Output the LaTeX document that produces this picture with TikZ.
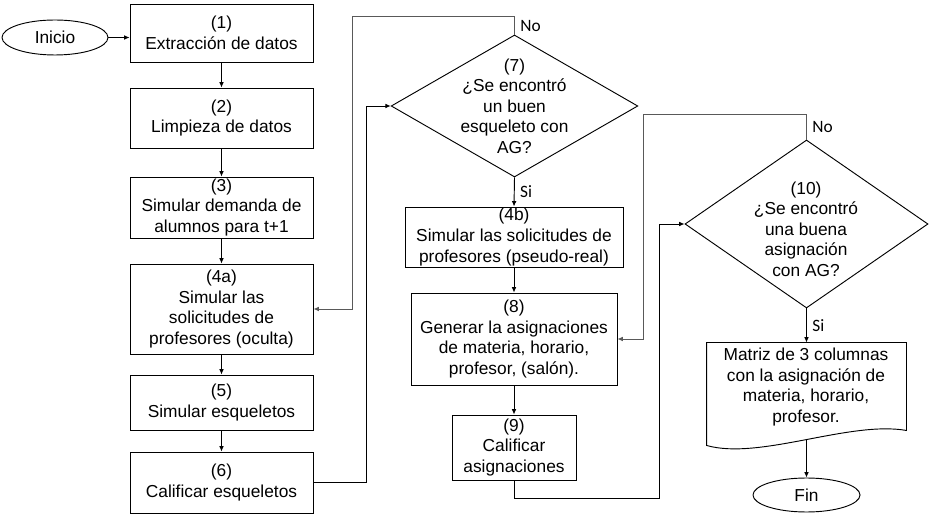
\documentclass[tikz,border=0pt]{standalone}
\usepackage{fontspec}
\setmainfont{Liberation Sans}
\newfontfamily\labfont{Carlito}
\usetikzlibrary{positioning,arrows.meta,calc,shapes.geometric}

\begin{document}
\begin{tikzpicture}[x=0.75pt,y=-0.75pt,>={Latex[length=4pt,width=3.5pt]},
  font=\fontsize{13}{15.4}\selectfont,line width=0.7pt,
  box/.style={draw,align=center,inner sep=1pt},
  term/.style={draw,ellipse,inner sep=0pt},
  dec/.style={draw,diamond,inner sep=0pt},
  lab/.style={font=\labfont\fontsize{13}{15}\selectfont,inner sep=1pt},
  back/.style={draw=black!65}]
\useasboundingbox (0,0) rectangle (931,523);

% first column
\node[term,minimum width=79.5pt,minimum height=26.25pt] (ini) at (55,37.5) {Inicio};
\node[box,minimum width=137.25pt,minimum height=43.5pt] (s1) at (221.5,33) {(1)\\Extracción de datos};
\node[box,minimum width=137.25pt,minimum height=45pt] (s2) at (221.5,118) {(2)\\Limpieza de datos};
\node[box,minimum width=137.25pt,minimum height=45.75pt] (s3) at (221.5,207.5) {(3)\\Simular demanda de\\alumnos para t+1};
\node[box,minimum width=137.25pt,minimum height=67.5pt] (s4a) at (221.5,309) {(4a)\\Simular las\\solicitudes de\\profesores (oculta)};
\node[box,minimum width=137.25pt,minimum height=41.25pt] (s5) at (221.5,402.5) {(5)\\Simular esqueletos};
\node[box,minimum width=137.25pt,minimum height=45.75pt] (s6) at (221.5,482.5) {(6)\\Calificar esqueletos};

% second column
\node[dec,minimum width=185pt,minimum height=106.5pt] (d7) at (514.5,106) {};
\node[align=center,inner sep=0pt] (q7) at (d7) {(7)\\¿Se encontró\\un buen\\esqueleto con\\AG?};
\node[box,minimum width=163.5pt,minimum height=45pt] (s4b) at (514,237) {(4b)\\Simular las solicitudes de\\profesores (pseudo-real)};
\node[box,minimum width=154.5pt,minimum height=69pt] (s8) at (514,339) {(8)\\Generar la asignaciones\\de materia, horario,\\profesor, (salón).};
\node[box,minimum width=93pt,minimum height=48.75pt] (s9) at (514,447.5) {(9)\\Calificar\\asignaciones};

% third column
\node[dec,minimum width=182.25pt,minimum height=126pt] (d10) at (806.5,224) {};
\node[align=center,inner sep=0pt] (q10) at (806,229) {(10)\\¿Se encontró\\una buena\\asignación\\con AG?};
\node[minimum width=149.25pt,minimum height=76.5pt,inner sep=0pt] (doc) at (806.5,394) {};
\draw (doc.south west) -- (doc.north west) -- (doc.north east) -- ([yshift=11.25pt]doc.south east)
  .. controls ($(doc.south west)+(143,-25)$) and ($(doc.south west)+(53,15)$) .. (doc.south west) -- cycle;
\node[align=center,inner sep=0pt] (mat) at (806,387) {Matriz de 3 columnas\\con la asignación de\\materia, horario,\\profesor.};
\coordinate (wb) at ($(doc.south)+(0,-6)$);
\node[term,minimum width=80.25pt,minimum height=25.5pt] (fin) at (806.5,495) {Fin};

% connectors
\draw[->] (ini.east) -- (ini.east -| s1.west);
\draw[->] (s1) -- (s2);
\draw[->] (s2) -- (s3);
\draw[->] (s3) -- (s4a);
\draw[->] (s4a) -- (s5);
\draw[->] (s5) -- (s6);
\draw[->] (s6.east) -- ++(53,0) |- (d7.west);
\draw[->,back] (d7.north) -- ++(0,-18) node[lab,midway,right=3pt,text=black]{No}
  -| ($(s4a.east)+(39,0)$) -- (s4a.east);
\draw[->] (d7.south) -- (s4b.north) node[lab,midway,right=3pt]{Si};
\draw[->] (s4b) -- (s8);
\draw[->] (s8) -- (s9);
\draw[->] (s9.south) -- ++(0,18) -| ($(d10.west)-(25,0)$) -- (d10.west);
\draw[->,back] (d10.north) -- ++(0,-25) node[lab,midway,right=3pt,text=black]{No}
  -| ($(s8.east)+(26,0)$) -- (s8.east);
\draw[->] (d10.south) -- (doc.north) node[lab,midway,right=3pt]{Si};
\draw[->] (wb) -- (fin);
\end{tikzpicture}
\end{document}
